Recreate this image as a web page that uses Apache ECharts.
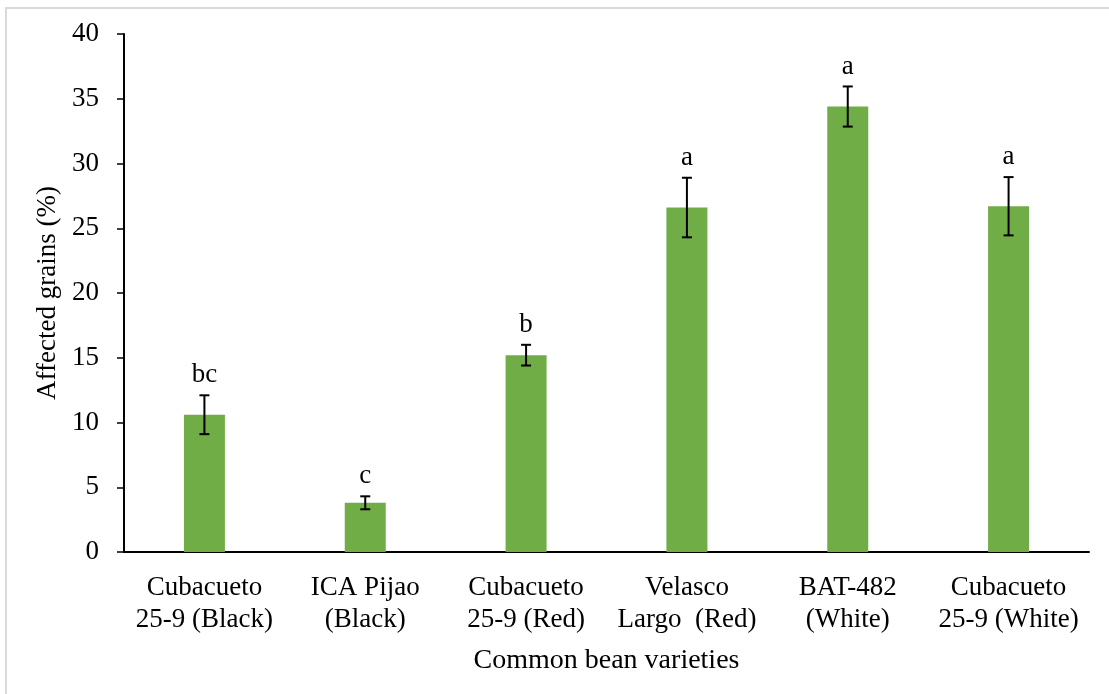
<!DOCTYPE html>
<html>
<head>
<meta charset="utf-8">
<script src="https://cdn.jsdelivr.net/npm/echarts@6/dist/echarts.min.js"></script>
<style>
  html, body { margin: 0; padding: 0; background: #ffffff; }
  #chart { width: 1109px; height: 694px; }
</style>
</head>
<body>
<div id="chart"></div>
<script>
// Common bean varieties and the share of grains affected (%)
const varieties = [
  'Cubacueto\n25-9 (Black)',
  'ICA Pijao\n(Black)',
  'Cubacueto\n25-9 (Red)',
  'Velasco\nLargo  (Red)',
  'BAT-482\n(White)',
  'Cubacueto\n25-9 (White)'
];
const affected = [10.6, 3.8, 15.2, 26.6, 34.4, 26.7];
const stdError = [1.5, 0.5, 0.8, 2.3, 1.55, 2.25];
const groups = ['bc', 'c', 'b', 'a', 'a', 'a'];
const yTicks = { min: 0, max: 40, interval: 5 };

const serif = '"Liberation Serif", "Times New Roman", serif';
const green = '#70AD47';

const chart = echarts.init(document.getElementById('chart'), null, { renderer: 'canvas' });

chart.setOption({
  backgroundColor: '#ffffff',
  animation: false,
  graphic: [{
    type: 'rect',
    shape: { x: 6, y: 8, width: 1130, height: 720 },
    style: { fill: 'none', stroke: '#d9d9d9', lineWidth: 2 },
    silent: true
  }],
  grid: { left: 124, right: 20, top: 34, bottom: 142 },
  xAxis: {
    type: 'category',
    data: varieties,
    name: 'Common bean varieties',
    nameLocation: 'middle',
    nameGap: 95,
    nameTextStyle: { fontFamily: serif, fontSize: 28, color: '#000' },
    axisLine: { lineStyle: { color: '#000', width: 2 } },
    axisTick: { show: false },
    axisLabel: {
      interval: 0,
      margin: 20,
      fontFamily: serif,
      fontSize: 27,
      lineHeight: 32,
      color: '#000'
    }
  },
  yAxis: {
    type: 'value',
    min: yTicks.min,
    max: yTicks.max,
    interval: yTicks.interval,
    name: 'Affected grains (%)',
    nameLocation: 'middle',
    nameGap: 56,
    nameRotate: 90,
    nameTextStyle: { fontFamily: serif, fontSize: 27, color: '#000' },
    axisLine: { show: true, lineStyle: { color: '#000', width: 2 } },
    axisTick: { show: true, inside: false, length: 7, lineStyle: { color: '#000', width: 1.5 } },
    axisLabel: { margin: 25, fontFamily: serif, fontSize: 27, color: '#000' },
    splitLine: { show: false }
  },
  series: [
    {
      type: 'bar',
      data: affected,
      barWidth: 41,
      itemStyle: { color: green },
      z: 2
    },
    {
      // error bars with the significance letters above them
      type: 'custom',
      data: affected.map((v, i) => [i, v, stdError[i], groups[i]]),
      encode: { x: 0, y: 1 },
      z: 3,
      renderItem: function (params, api) {
        const i = api.value(0);
        const mean = api.value(1);
        const err = api.value(2);
        const hi = api.coord([i, mean + err]);
        const lo = api.coord([i, mean - err]);
        const cap = 5;
        const lineStyle = { stroke: '#000', lineWidth: 2 };
        return {
          type: 'group',
          children: [
            { type: 'line', shape: { x1: hi[0], y1: hi[1], x2: lo[0], y2: lo[1] }, style: lineStyle },
            { type: 'line', shape: { x1: hi[0] - cap, y1: hi[1], x2: hi[0] + cap, y2: hi[1] }, style: lineStyle },
            { type: 'line', shape: { x1: lo[0] - cap, y1: lo[1], x2: lo[0] + cap, y2: lo[1] }, style: lineStyle },
            {
              type: 'text',
              x: hi[0],
              y: hi[1] - 20,
              style: {
                text: groups[params.dataIndex],
                fontFamily: serif,
                fontSize: 27,
                fill: '#000',
                align: 'center',
                verticalAlign: 'middle'
              }
            }
          ]
        };
      }
    }
  ]
});
</script>
</body>
</html>
